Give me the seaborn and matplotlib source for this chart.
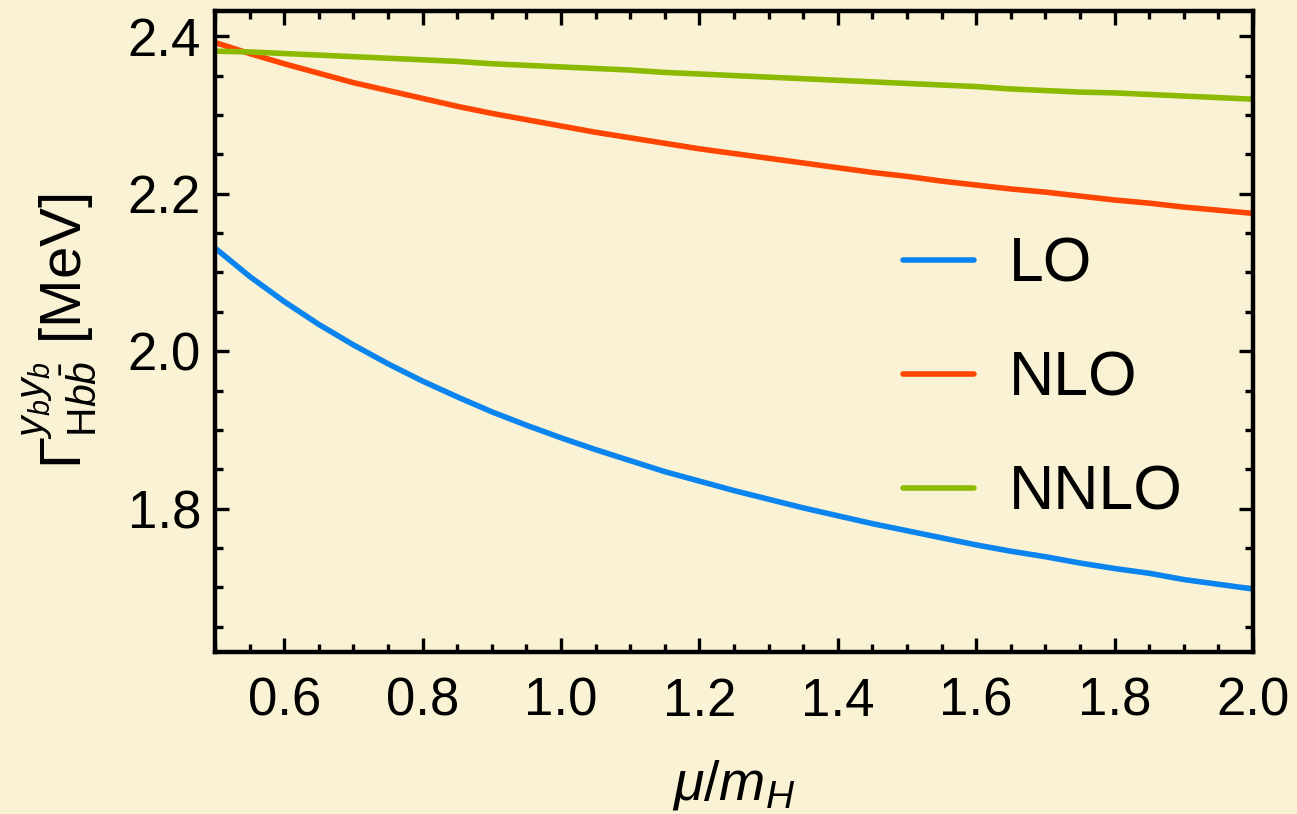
import numpy as np
import pandas as pd
import matplotlib
matplotlib.use("Agg")
import matplotlib.pyplot as plt
from matplotlib.ticker import MultipleLocator
import seaborn as sns

# ---- data ----
mu = [0.50, 0.55, 0.60, 0.65, 0.70, 0.75, 0.80, 0.85, 0.90, 0.95, 1.00,
      1.05, 1.10, 1.15, 1.20, 1.25, 1.30, 1.35, 1.40, 1.45, 1.50,
      1.55, 1.60, 1.65, 1.70, 1.75, 1.80, 1.85, 1.90, 1.95, 2.00]
lo = [2.131, 2.095, 2.063, 2.034, 2.008, 1.984, 1.962, 1.942, 1.923, 1.906, 1.890,
      1.875, 1.861, 1.847, 1.835, 1.823, 1.812, 1.801, 1.791, 1.781, 1.772,
      1.763, 1.754, 1.746, 1.739, 1.731, 1.724, 1.718, 1.710, 1.704, 1.698]
nlo = [2.392, 2.378, 2.365, 2.353, 2.341, 2.331, 2.321, 2.311, 2.302, 2.294, 2.286,
       2.278, 2.271, 2.264, 2.257, 2.251, 2.245, 2.239, 2.233, 2.227, 2.222,
       2.216, 2.211, 2.206, 2.202, 2.197, 2.192, 2.188, 2.183, 2.179, 2.175]
nnlo = [2.381, 2.380, 2.378, 2.376, 2.374, 2.372, 2.370, 2.368, 2.365, 2.363, 2.361,
        2.359, 2.357, 2.354, 2.352, 2.350, 2.348, 2.346, 2.344, 2.342, 2.340,
        2.338, 2.336, 2.333, 2.331, 2.329, 2.328, 2.326, 2.324, 2.322, 2.320]
series_names = ["LO", "NLO", "NNLO"]
x_ticks = [0.6, 0.8, 1.0, 1.2, 1.4, 1.6, 1.8, 2.0]
y_ticks = [1.8, 2.0, 2.2, 2.4]

df = pd.DataFrame({
    "mu": mu * 3,
    "Gamma": lo + nlo + nnlo,
    "order": [n for n in series_names for _ in mu],
})

# ---- style ----
bg = "#FAF2D5"
sns.set_theme(style="ticks")
plt.rcParams["font.family"] = ["Liberation Sans", "DejaVu Sans"]
plt.rcParams["mathtext.fontset"] = "custom"
plt.rcParams["mathtext.rm"] = "Liberation Sans"
plt.rcParams["mathtext.it"] = "Liberation Sans:italic"
plt.rcParams["mathtext.bf"] = "Liberation Sans:bold"
for k in ["text.color", "axes.labelcolor", "xtick.color", "ytick.color", "axes.edgecolor"]:
    plt.rcParams[k] = "black"

fig = plt.figure(figsize=(12.97, 8.14), dpi=100, facecolor=bg)
ax = fig.add_axes([215 / 1297, 1 - 652 / 814, (1253 - 215) / 1297, (652 - 11) / 814])
ax.set_facecolor(bg)

palette = {"LO": "#0A84EE", "NLO": "#FF4500", "NNLO": "#8BBA00"}
sns.lineplot(data=df, x="mu", y="Gamma", hue="order", palette=palette,
             linewidth=4.0, ax=ax, legend=True)

ax.set_xlim(0.5, 2.0)
ax.set_ylim(1.618, 2.432)
ax.set_xticks(x_ticks)
ax.set_yticks(y_ticks)
ax.set_xticklabels([f"{v:.1f}" for v in x_ticks])
ax.set_yticklabels([f"{v:.1f}" for v in y_ticks])
ax.xaxis.set_minor_locator(MultipleLocator(0.05))
ax.yaxis.set_minor_locator(MultipleLocator(0.05))
ax.tick_params(which="both", direction="in", top=True, right=True, color="black")
ax.tick_params(which="major", length=10, width=2.4, labelsize=38)
ax.tick_params(axis="x", which="major", pad=18)
ax.tick_params(axis="y", which="major", pad=10)
ax.tick_params(which="minor", length=6, width=2.4)
for s in ax.spines.values():
    s.set_linewidth(3.2)
    s.set_color("black")

ax.set_xlabel(r"$\mu/m_H$", fontsize=40, labelpad=22)
ax.set_ylabel(r"$\Gamma^{y_b y_b}_{\mathrm{H}b\bar{b}}$ [MeV]", fontsize=42, labelpad=20)

handles, labels = ax.get_legend_handles_labels()
leg = ax.legend(handles, labels, loc="center left",
                bbox_to_anchor=(903 / 1297, 1 - 379 / 814),
                bbox_transform=fig.transFigure, frameon=False, fontsize=45,
                handlelength=1.14, handletextpad=0.55, labelspacing=0.88,
                borderpad=0, borderaxespad=0)
for line in leg.get_lines():
    line.set_linewidth(4.0)

fig.savefig("out.png", dpi=100, facecolor=bg)
